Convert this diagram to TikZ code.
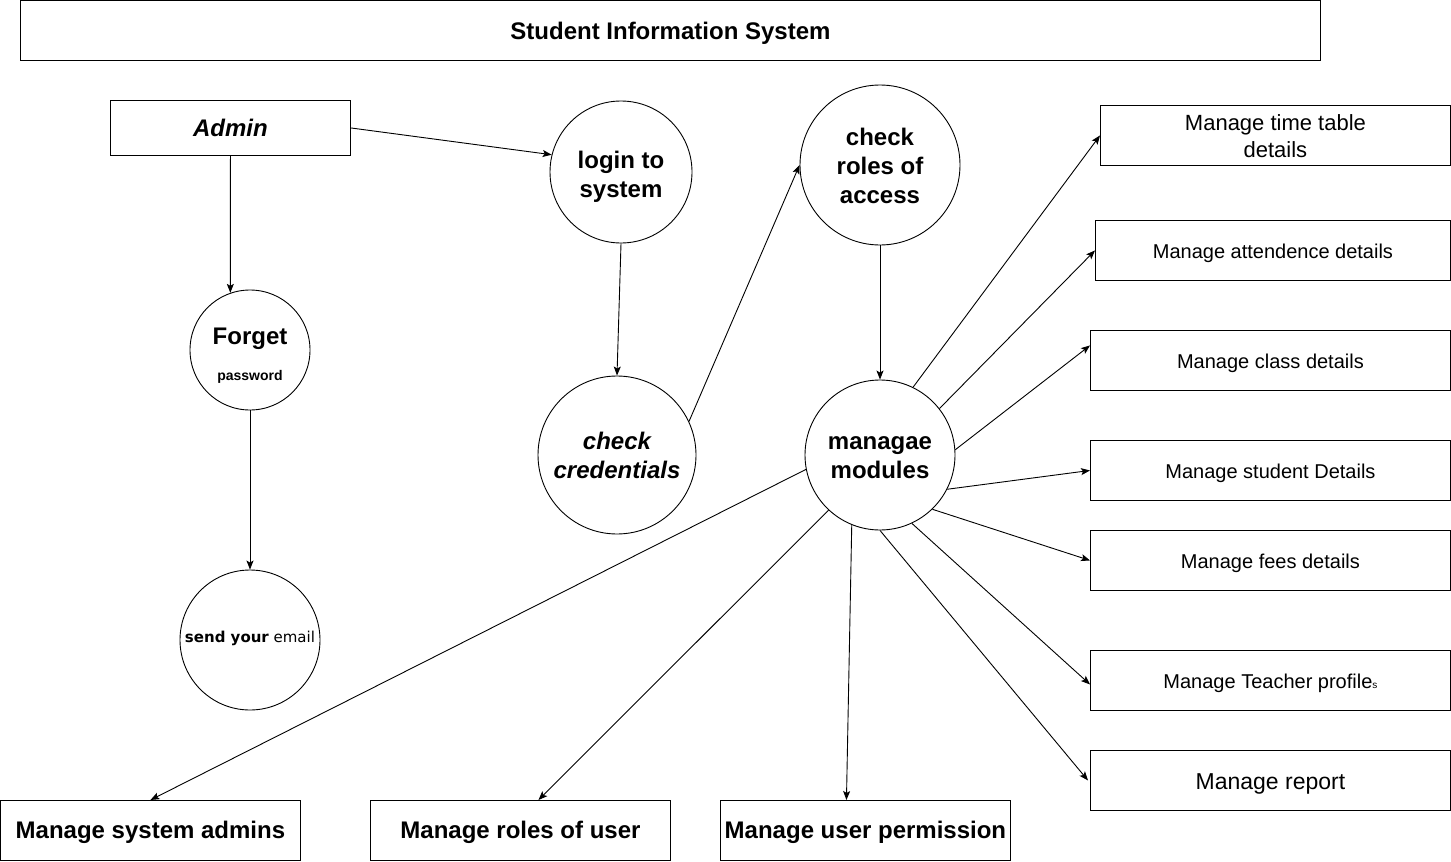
\documentclass[tikz,border=0pt]{standalone}
\usepackage{fontspec}
\setmainfont{Liberation Sans}
\newfontfamily\verd{DejaVu Sans}
\usetikzlibrary{arrows.meta,calc}
\begin{document}
\begin{tikzpicture}[x=1pt,y=-1pt,line width=0.9pt,
  box/.style={draw,rectangle,inner sep=0pt,anchor=north west},
  circ/.style={draw,circle,inner sep=0pt},
  txt/.style={inner sep=0pt,align=center},
  arr/.style={-{Stealth[length=9pt,width=7pt,inset=2pt]}},
  big/.style={font=\fontsize{24}{29}\selectfont\bfseries},
  sm/.style={font=\fontsize{20}{24}\selectfont}]
\useasboundingbox (0,0) rectangle (1451,862);
% shapes
\node[box,minimum width=1300pt,minimum height=60pt] (title) at (20,0) {};
\node[box,minimum width=240pt,minimum height=55pt] (admin) at (110,100) {};
\node[circ,minimum size=142pt] (login) at (621,172) {};
\node[circ,minimum size=160pt] (roles) at (880,165) {};
\node[circ,minimum size=120pt] (forget) at (250,350) {};
\node[circ,minimum size=140pt] (send) at (250,640) {};
\node[circ,minimum size=158pt] (cred) at (617,455) {};
\node[circ,minimum size=150pt] (mm) at (880,455) {};
\node[box,minimum width=350pt,minimum height=60pt] (tt) at (1100,105) {};
\node[box,minimum width=355pt,minimum height=60pt] (att) at (1095,220) {};
\node[box,minimum width=360pt,minimum height=60pt] (cls) at (1090,330) {};
\node[box,minimum width=360pt,minimum height=60pt] (stu) at (1090,440) {};
\node[box,minimum width=360pt,minimum height=60pt] (fee) at (1090,530) {};
\node[box,minimum width=360pt,minimum height=60pt] (tea) at (1090,650) {};
\node[box,minimum width=360pt,minimum height=60pt] (rep) at (1090,750) {};
\node[box,minimum width=300pt,minimum height=60pt] (sa) at (0,800) {};
\node[box,minimum width=300pt,minimum height=60pt] (ru) at (370,800) {};
\node[box,minimum width=290pt,minimum height=60pt] (up) at (720,800) {};
% texts
\node[txt,font=\fontsize{24}{28}\selectfont\bfseries] (title-t) at ($(title.center)+(0,3)$) {Student Information System};
\node[txt,font=\fontsize{24}{28}\selectfont\bfseries\itshape] (admin-t) at ($(admin.center)+(0,0)$) {Admin};
\node[txt,big] (login-t) at ($(login.center)+(0,4.5)$) {login to\\system};
\node[txt,big] (roles-t) at ($(roles.center)+(0,1)$) {check\\roles of\\access};
\node[txt,font=\fontsize{24}{28}\selectfont\bfseries] (forget-t) at (250,339) {Forget};
\node[txt,font=\fontsize{14}{16}\selectfont\bfseries] (forget-p) at (250,377) {password};
\node[txt,font=\verd\fontsize{15}{18}\selectfont] (send-t) at ($(send.center)+(0,-2)$) {\textbf{send your} email};
\node[txt,font=\fontsize{24}{29}\selectfont\bfseries\itshape] (cred-t) at ($(cred.center)+(0,0.5)$) {check\\credentials};
\node[txt,big] (mm-t) at ($(mm.center)+(0,3)$) {managae\\modules};
\node[txt,font=\fontsize{22}{27}\selectfont] (tt-t) at ($(tt.center)+(0,1)$) {Manage time table\\details};
\node[txt,sm] (att-t) at ($(att.center)+(0,3)$) {Manage attendence details};
\node[txt,sm] (cls-t) at ($(cls.center)+(0,3)$) {Manage class details};
\node[txt,sm] (stu-t) at ($(stu.center)+(0,3)$) {Manage student Details};
\node[txt,sm] (fee-t) at ($(fee.center)+(0,3)$) {Manage fees details};
\node[txt,sm] (tea-t) at ($(tea.center)+(0,3)$) {Manage Teacher profile{\fontsize{10}{10}\selectfont s}};
\node[txt,font=\fontsize{23}{27}\selectfont] (rep-t) at ($(rep.center)+(0,4)$) {Manage report};
\node[txt,big] (sa-t) at ($(sa.center)+(0,2)$) {Manage system admins};
\node[txt,big] (ru-t) at ($(ru.center)+(0,2)$) {Manage roles of user};
\node[txt,big] (up-t) at ($(up.center)+(0,2)$) {Manage user permission};
% arrows
\draw[arr] (admin.east) -- (login.166);
\draw[arr] (admin.south) -- (forget.109.5);
\draw[arr] (forget.south) -- (send.north);
\draw[arr] (login.south) -- (cred.north);
\draw[arr] (cred.25) -- (roles.west);
\draw[arr] (roles.south) -- (mm.north);
\draw[arr] (mm.64) -- (tt.west);
\draw[arr] (mm.38) -- (att.west);
\draw[arr] (mm.4) -- ($(cls.west)+(0,-15)$);
\draw[arr] (mm.-27) -- (stu.west);
\draw[arr] (mm.-46) -- (fee.west);
\draw[arr] (mm.-65) -- ($(tea.west)+(0,4)$);
\draw[arr] (mm.-90) -- ($(rep.west)+(-2,0)$);
\draw[arr] (mm.191) -- (sa.north);
\draw[arr] (mm.227) -- ($(ru.north)+(18,0)$);
\draw[arr] (mm.248) -- ($(up.north)+(-19,0)$);
\end{tikzpicture}
\end{document}
